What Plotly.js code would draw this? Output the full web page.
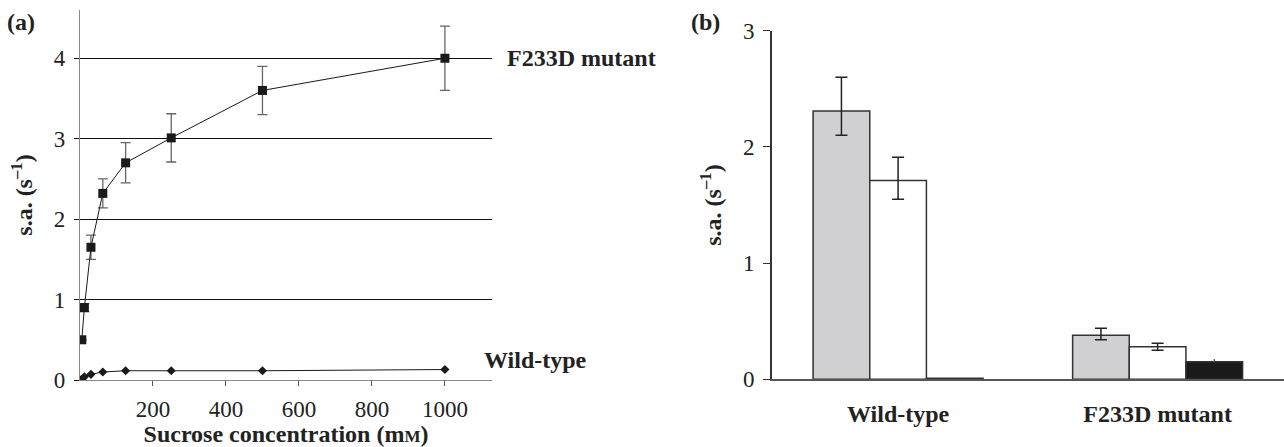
<!DOCTYPE html>
<html>
<head>
<meta charset="utf-8">
<script src="https://cdn.plot.ly/plotly-3.0.1.min.js"></script>
<style>html,body{margin:0;padding:0;background:#fff;}#chart{width:1284px;height:447px;}</style>
</head>
<body>
<div id="chart"></div>
<script>
// Panel (a): specific activity vs sucrose concentration
const sucroseConc = [5, 12, 30, 62.5, 125, 250, 500, 1000];
const f233dRate = [0.5, 0.9, 1.65, 2.32, 2.7, 3.01, 3.6, 4.0];
const f233dErr = [0, 0.05, 0.15, 0.18, 0.25, 0.3, 0.3, 0.4];
const wildRate = [0.01, 0.04, 0.07, 0.10, 0.115, 0.115, 0.115, 0.13];
const xTickVals = [200, 400, 600, 800, 1000];

// Panel (b): grouped bars
const groups = ['Wild-type', 'F233D mutant'];
const grayVals = [2.31, 0.38];
const grayErrPlus = [0.29, 0.06];
const grayErrMinus = [0.21, 0.04];
const whiteVals = [1.71, 0.28];
const whiteErrPlus = [0.2, 0.03];
const whiteErrMinus = [0.16, 0.03];
const blackVals = [0.01, 0.15];
const blackErrPlus = [0, 0.025];
const blackErrMinus = [0, 0];

const serif = 'Liberation Serif, Times New Roman, serif';
const ink = '#1a1a1a';

const traces = [
  {
    x: sucroseConc, y: f233dRate, type: 'scatter', mode: 'lines+markers',
    xaxis: 'x', yaxis: 'y',
    line: {color: ink, width: 1},
    marker: {symbol: 'square', size: 9, color: ink},
    error_y: {type: 'data', array: f233dErr, visible: true, color: '#666', thickness: 1.3, width: 5}
  },
  {
    x: sucroseConc, y: wildRate, type: 'scatter', mode: 'lines+markers',
    xaxis: 'x', yaxis: 'y',
    line: {color: ink, width: 1},
    marker: {symbol: 'diamond', size: 7, color: ink}
  },
  {
    x: groups, y: grayVals, type: 'bar', xaxis: 'x2', yaxis: 'y2',
    marker: {color: '#d0d0d2', line: {color: '#333', width: 1.5}},
    error_y: {type: 'data', symmetric: false, array: grayErrPlus, arrayminus: grayErrMinus, color: '#222', thickness: 1.5, width: 6}
  },
  {
    x: groups, y: whiteVals, type: 'bar', xaxis: 'x2', yaxis: 'y2',
    marker: {color: '#ffffff', line: {color: '#333', width: 1.5}},
    error_y: {type: 'data', symmetric: false, array: whiteErrPlus, arrayminus: whiteErrMinus, color: '#222', thickness: 1.5, width: 6}
  },
  {
    x: groups, y: blackVals, type: 'bar', xaxis: 'x2', yaxis: 'y2',
    marker: {color: '#1a1a1a', line: {color: '#333', width: 1.5}},
    error_y: {type: 'data', symmetric: false, array: blackErrPlus, arrayminus: blackErrMinus, color: '#555', thickness: 1.2, width: 0}
  }
];

const tickFont = {family: serif, size: 23, color: '#222'};
const titleFont = {family: serif, size: 24, color: '#222', weight: 'bold'};

const layout = {
  width: 1284, height: 447,
  margin: {l: 0, r: 0, t: 0, b: 0},
  paper_bgcolor: '#fff', plot_bgcolor: '#fff',
  showlegend: false,
  barmode: 'group', bargap: 0.345, bargroupgap: 0,
  xaxis: {
    domain: [80 / 1284, 492 / 1284], range: [0, 1129],
    tickvals: xTickVals, ticks: 'outside', ticklen: 5, tickcolor: '#555',
    showline: true, linecolor: '#888', linewidth: 1.2,
    showgrid: false, zeroline: false, automargin: false,
    tickfont: tickFont, ticklabelstandoff: 3,
    title: {text: 'Sucrose concentration (m<span style="font-size:17px">M</span>)', font: titleFont, standoff: 4}
  },
  yaxis: {
    domain: [(447 - 380) / 447, (447 - 10) / 447], range: [0, 4.6],
    tickvals: [0, 1, 2, 3, 4], ticks: 'outside', ticklen: 5, tickcolor: '#111',
    showline: true, linecolor: '#888', linewidth: 1.2,
    showgrid: true, gridcolor: '#111', gridwidth: 1.2, zeroline: false, automargin: false,
    tickfont: tickFont, ticklabelstandoff: 4,
    title: {text: 's.a. (s<sup>–1</sup>)', font: titleFont, standoff: 14}
  },
  xaxis2: {
    anchor: 'y2', type: 'category',
    domain: [771.7 / 1284, 1], range: [-0.487, 1.487],
    ticks: '', showline: true, linecolor: '#555', linewidth: 1.5,
    showgrid: false, zeroline: false, automargin: false,
    tickfont: {family: serif, size: 24, color: '#222', weight: 'bold'}, ticklabelstandoff: 12
  },
  yaxis2: {
    anchor: 'x2',
    domain: [(447 - 379.3) / 447, (447 - 30.7) / 447], range: [0, 3],
    tickvals: [0, 1, 2, 3], ticks: 'outside', ticklen: 7, tickcolor: '#333',
    showline: true, linecolor: '#333', linewidth: 1.5,
    showgrid: false, zeroline: false, automargin: false,
    tickfont: tickFont, ticklabelstandoff: 4,
    title: {text: 's.a. (s<sup>–1</sup>)', font: titleFont, standoff: 14}
  },
  annotations: [
    {text: '(a)', xref: 'paper', yref: 'paper', x: 21 / 1284, y: (447 - 22) / 447, xanchor: 'center', yanchor: 'middle', showarrow: false, font: titleFont},
    {text: '(b)', xref: 'paper', yref: 'paper', x: 705 / 1284, y: (447 - 22) / 447, xanchor: 'center', yanchor: 'middle', showarrow: false, font: titleFont},
    {text: 'F233D mutant', xref: 'paper', yref: 'y', x: 505 / 1284, y: 4, xanchor: 'left', yanchor: 'middle', showarrow: false, font: titleFont},
    {text: 'Wild-type', xref: 'paper', yref: 'paper', x: 482 / 1284, y: (447 - 360) / 447, xanchor: 'left', yanchor: 'middle', showarrow: false, font: titleFont}
  ]
};

Plotly.newPlot('chart', traces, layout, {displayModeBar: false, staticPlot: true});
</script>
</body>
</html>
